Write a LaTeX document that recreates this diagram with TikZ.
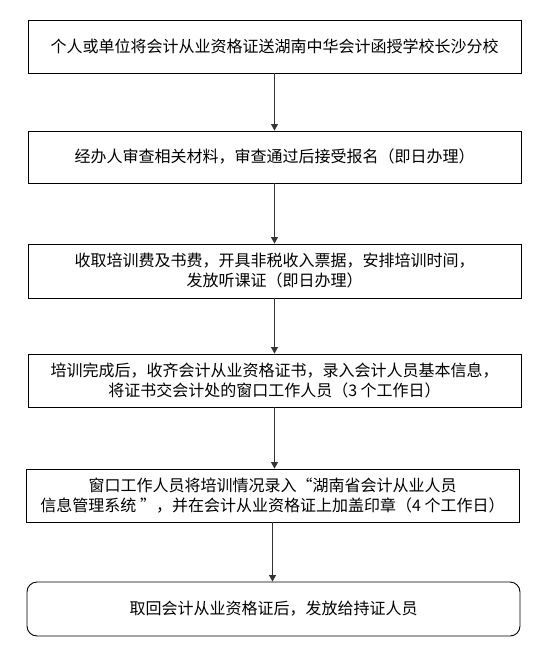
\documentclass[tikz,border=0pt]{standalone}
\usepackage{fontspec}
\newfontfamily\cjk{Noto Sans CJK SC}
\usepackage{xcolor}
\usetikzlibrary{arrows.meta,positioning}
\definecolor{ink}{HTML}{000000}
\definecolor{linkgray}{HTML}{333333}

\begin{document}
\begin{tikzpicture}[x=1pt,y=-1pt,
    stepbox/.style={draw=ink,line width=0.9pt,minimum width=493pt,minimum height=53pt,
      inner sep=0pt,align=center,font=\cjk\fontsize{16}{20}\selectfont},
    link/.style={-{Triangle[length=6.5pt,width=7pt]},line width=0.8pt,draw=linkgray,fill=ink}]
    \path[use as bounding box] (0,0) rectangle (549,666);
    % steps, top to bottom
    \node[stepbox] (submit) at (274.5,46.5)
      {个人或单位将会计从业资格证送湖南中华会计函授学校长沙分校};
    \node[stepbox,minimum height=52pt] (review) at (274.5,157)
      {经办人审查相关材料，审查通过后接受报名（即日办理）};
    \node[stepbox,minimum height=54pt] (fees) at (274.5,271)
      {收取培训费及书费，开具非税收入票据，安排培训时间，\\
       发放听课证（即日办理）};
    \node[stepbox] (collect) at (274.5,380.5)
      {培训完成后，收齐会计从业资格证书，录入会计人员基本信息，\\
       将证书交会计处的窗口工作人员（3 个工作日）};
    \node[stepbox] (stamp) at (272.5,495.5)
      {窗口工作人员将培训情况录入“湖南省会计从业人员\\
       信息管理系统 ”，并在会计从业资格证上加盖印章（4 个工作日）};
    \node[stepbox,rounded corners=10pt,minimum height=54pt] (issue) at (273.5,609)
      {取回会计从业资格证后，发放给持证人员};
    % arrows
    \draw[link] (submit.south) -- (review.north);
    \draw[link] (review.south) -- (fees.north);
    \draw[link] (fees.south) -- (collect.north);
    \draw[link] (collect.south) -- (collect.south |- stamp.north);
    \draw[link] (stamp.south) -- (stamp.south |- issue.north);
  \end{tikzpicture}
\end{document}
